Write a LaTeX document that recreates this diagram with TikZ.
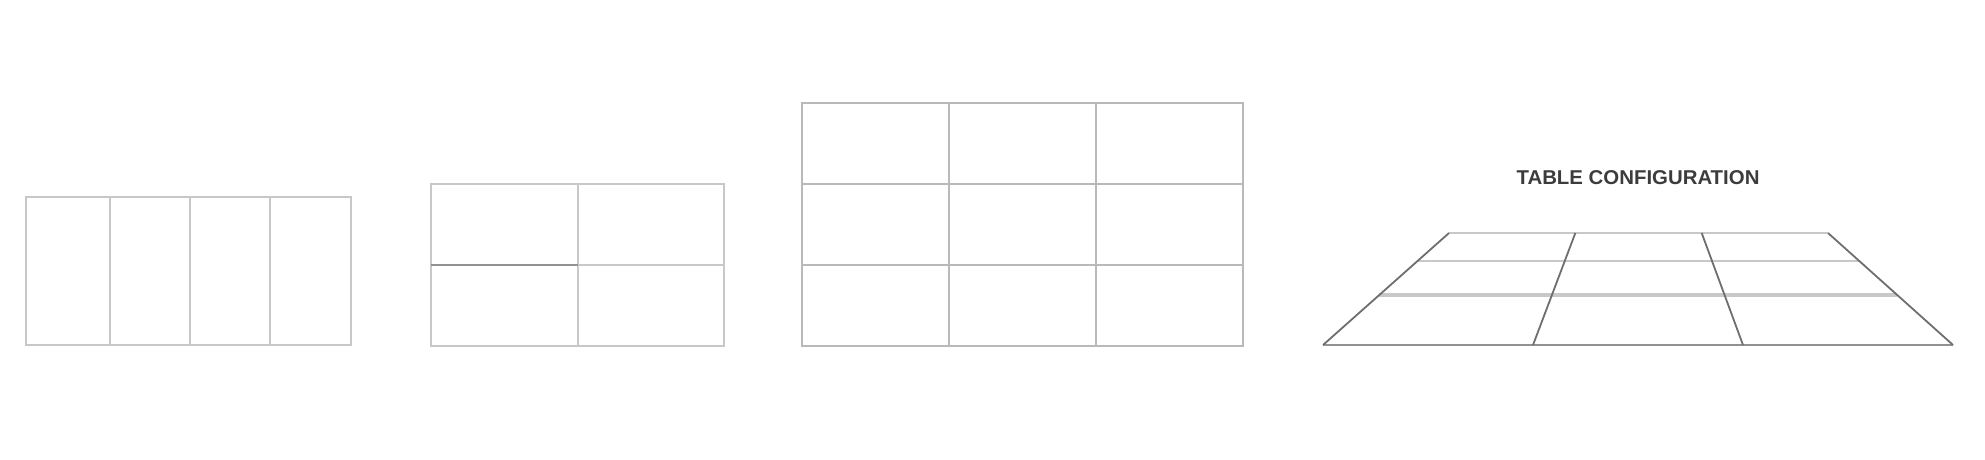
\documentclass[tikz,border=0pt]{standalone}
\usepackage{fontspec}
\setsansfont{Liberation Sans}
\usepackage{tikz}
\usetikzlibrary{calc}
\definecolor{lightgrid}{RGB}{200,200,200}
\definecolor{midgrid}{RGB}{185,185,185}
\definecolor{darkgrid}{RGB}{145,145,145}
\definecolor{edgegray}{RGB}{110,110,110}
\definecolor{titlegray}{RGB}{60,60,60}
\tikzset{every picture/.style={x=0.5pt,y=-0.5pt}}

\begin{document}
\begin{tikzpicture}[gl/.style={draw=lightgrid,line width=1pt},ml/.style={draw=midgrid,line width=1pt},dl/.style={draw=darkgrid,line width=1pt},el/.style={draw=edgegray,line width=0.9pt},bl/.style={draw=lightgrid,line width=2pt}]
\useasboundingbox (0,0) rectangle (1985,460);
% four columns
\draw[gl] (26,197) rectangle (351,345);
\draw[gl] (110,197) -- (110,345);
\draw[gl] (190,197) -- (190,345);
\draw[gl] (270,197) -- (270,345);
% two by two
\draw[gl] (431,184) rectangle (724,346);
\draw[gl] (578,184) -- (578,346);
\draw[gl] (578,265) -- (724,265);
\draw[dl] (431,265) -- (578,265);
% three by three
\draw[ml] (802,103) rectangle (1243,346);
\draw[ml] (949,103) -- (949,346);
\draw[ml] (1096,103) -- (1096,346);
\draw[ml] (802,184) -- (1243,184);
\draw[ml] (802,265) -- (1243,265);
% table in perspective
\node (title) [font=\sffamily\bfseries\fontsize{10}{12}\selectfont,text=titlegray,xscale=1.02,inner sep=0pt] at (1638,178) {TABLE CONFIGURATION};
\coordinate (tl) at (1449,233);
\coordinate (tr) at (1828,233);
\coordinate (bl) at (1323,345);
\coordinate (br) at (1953,345);
\coordinate (t1) at ($(tl)!1/3!(tr)$);
\coordinate (t2) at ($(tl)!2/3!(tr)$);
\coordinate (b1) at ($(bl)!1/3!(br)$);
\coordinate (b2) at ($(bl)!2/3!(br)$);
\coordinate (l1) at ($(tl)!0.25!(bl)$);
\coordinate (r1) at ($(tr)!0.25!(br)$);
\coordinate (l2) at ($(tl)!0.553!(bl)$);
\coordinate (r2) at ($(tr)!0.553!(br)$);
\draw[gl] (tl) -- (tr);
\draw[gl] (l1) -- (r1);
\draw[bl] (l2) -- (r2);
\draw[dl] (bl) -- (br);
\draw[el] (tl) -- (bl);
\draw[el] (tr) -- (br);
\draw[el] (t1) -- (b1);
\draw[el] (t2) -- (b2);
\end{tikzpicture}
\end{document}
